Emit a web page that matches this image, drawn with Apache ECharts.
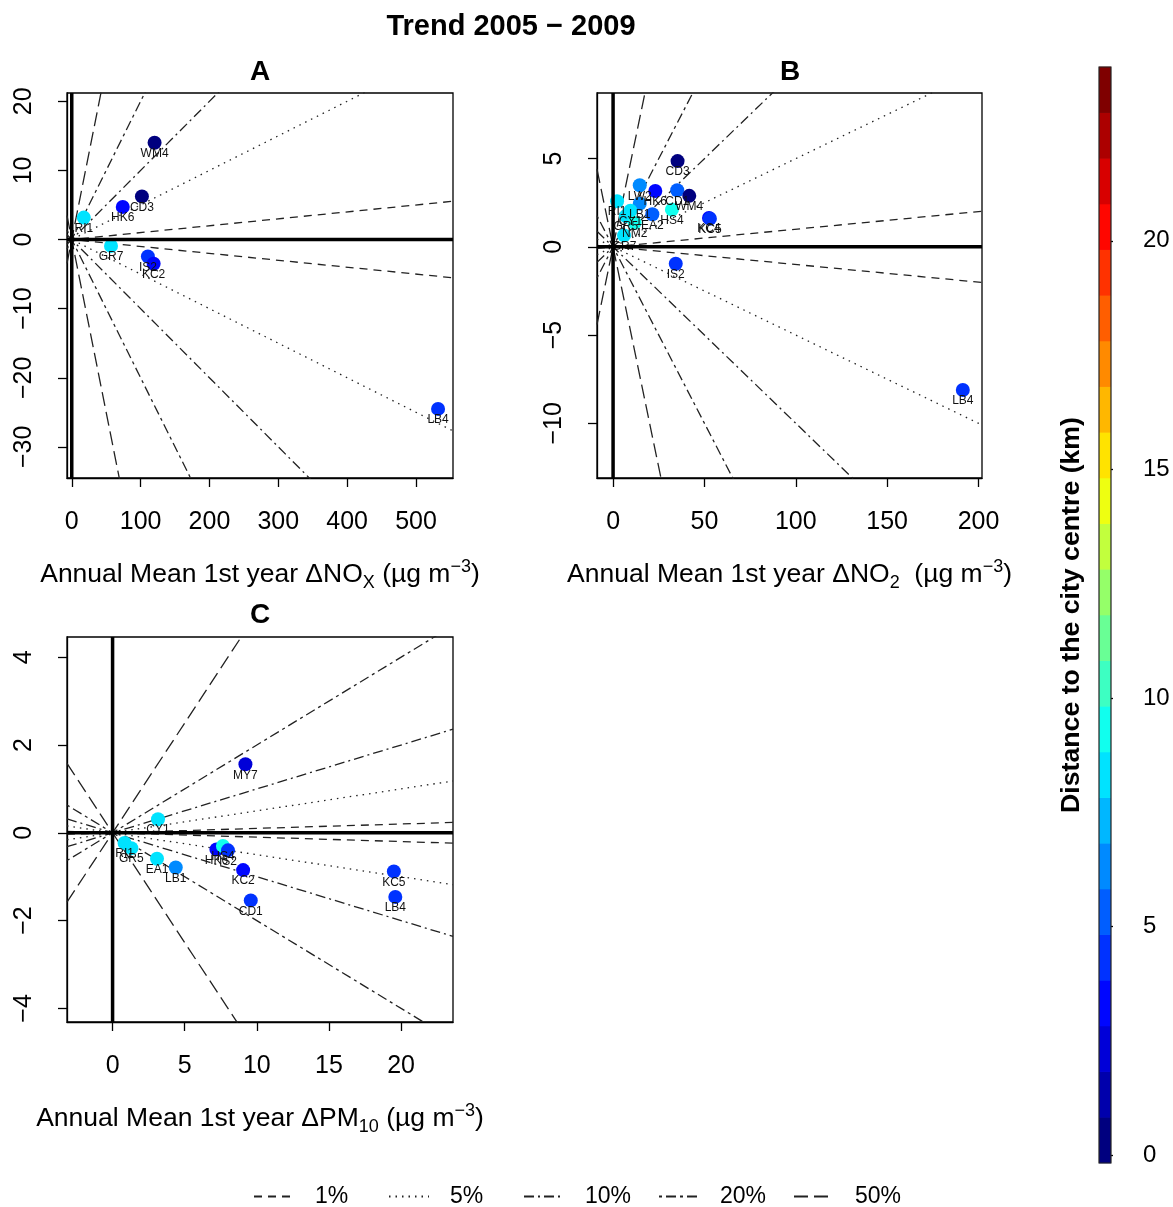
<!DOCTYPE html>
<html>
<head>
<meta charset="utf-8">
<script src="https://cdn.jsdelivr.net/npm/echarts@6/dist/echarts.min.js"></script>
<style>
  html, body { margin: 0; padding: 0; background: #fff; }
  #chart { width: 1173px; height: 1207px; }
</style>
</head>
<body>
<div id="chart"></div>
<script>
// Reference trend slopes (change per year as a fraction of the first-year mean)
const trendLevels = [0.01, 0.05, 0.10, 0.20, 0.50];
const trendNames = ['1%', '5%', '10%', '20%', '50%'];

// Panel A: NOx
const sitesA = ['WM4', 'CD3', 'HK6', 'RI1', 'GR7', 'IS2', 'KC2', 'LB4'];
const xA = [120.3, 101.9, 74.1, 17.5, 57.0, 110.6, 118.9, 532.0];
const yA = [14.0, 6.24, 4.72, 3.17, -0.92, -2.44, -3.5, -24.5];
const distA = [0.3, 0.5, 3.0, 8.5, 8.3, 4.0, 3.5, 4.2];
const limAx = [-6.9, 553.7];
const limAy = [-34.5, 21.2];
const ticksAx = [0, 100, 200, 300, 400, 500];
const ticksAy = [-30, -20, -10, 0, 10, 20];

// Panel B: NO2
const sitesB = ['CD3', 'LW2', 'HK6', 'CD1', 'WM4', 'RI1', 'LB1', 'HS4', 'EA2', 'CY1', 'GR5', 'NM2', 'GR7', 'KC4', 'KC5', 'IS2', 'LB4'];
const xB = [35.3, 14.6, 23.1, 35.1, 41.7, 2.2, 14.6, 32.2, 21.5, 9.5, 7.0, 11.8, 6.0, 52.5, 53.0, 34.3, 191.4];
const yB = [4.86, 3.49, 3.17, 3.21, 2.89, 2.59, 2.45, 2.11, 1.85, 2.05, 1.75, 1.37, 0.65, 1.64, 1.60, -0.96, -8.11];
const distB = [0.5, 6.6, 3.0, 5.0, 0.3, 8.5, 5.9, 9.2, 5.0, 8.8, 8.0, 9.0, 8.3, 3.3, 4.0, 4.0, 4.2];
const limBx = [-8.8, 201.9];
const limBy = [-13.1, 8.72];
const ticksBx = [0, 50, 100, 150, 200];
const ticksBy = [-10, -5, 0, 5];

// Panel C: PM10
const sitesC = ['MY7', 'CY1', 'RI1', 'GR5', 'EA1', 'LB1', 'HK6', 'HS4', 'IS2', 'KC2', 'CD1', 'KC5', 'LB4'];
const xC = [9.21, 3.15, 0.83, 1.3, 3.08, 4.38, 7.2, 7.65, 8.0, 9.05, 9.58, 19.5, 19.6];
const yC = [1.56, 0.31, -0.23, -0.35, -0.59, -0.79, -0.38, -0.30, -0.40, -0.85, -1.54, -0.88, -1.46];
const distC = [2.2, 8.8, 8.5, 8.0, 8.7, 5.9, 3.0, 9.2, 4.0, 3.5, 4.8, 4.3, 4.2];
const limCx = [-3.16, 23.6];
const limCy = [-4.31, 4.46];
const ticksCx = [0, 5, 10, 15, 20];
const ticksCy = [-4, -2, 0, 2, 4];

// Colour scale: distance to the city centre (km)
const distMin = -0.17, distMax = 23.8, distBands = 24;
const barTicks = [0, 5, 10, 15, 20];
const jetStops = ['#00007F', '#0000FF', '#007FFF', '#00FFFF', '#7FFF7F', '#FFFF00', '#FF7F00', '#FF0000', '#7F0000'];

function hexToRgb(h) {
  return [parseInt(h.slice(1, 3), 16), parseInt(h.slice(3, 5), 16), parseInt(h.slice(5, 7), 16)];
}
function jet(t) {
  const n = jetStops.length - 1;
  const pos = Math.max(0, Math.min(1, t)) * n;
  const i = Math.min(Math.floor(pos), n - 1);
  const f = pos - i;
  const a = hexToRgb(jetStops[i]), b = hexToRgb(jetStops[i + 1]);
  const c = a.map((v, k) => Math.round(v + (b[k] - v) * f));
  return 'rgb(' + c.join(',') + ')';
}
const bandColors = Array.from({ length: distBands }, (_, k) => jet(k / (distBands - 1)));
const bandWidth = (distMax - distMin) / distBands;
function distColor(d) {
  const k = Math.max(0, Math.min(distBands - 1, Math.floor((d - distMin) / bandWidth)));
  return bandColors[k];
}

const FONT = "'Liberation Sans', Arial, Helvetica, sans-serif";
const lineDashes = [[8, 6], [1.5, 5], [10, 4, 2, 4], [3, 4, 10, 4], [14, 6]];
const minus = v => String(v).replace('-', '\u2212');

const panels = [
  { sites: sitesA, xs: xA, ys: yA, dist: distA, limX: limAx, limY: limAy, tx: ticksAx, ty: ticksAy,
    grid: { left: 67, top: 93, width: 386, height: 385 },
    name: 'Annual Mean 1st year \u0394NO{sub|X} (\u00b5g m{sup|\u22123})' },
  { sites: sitesB, xs: xB, ys: yB, dist: distB, limX: limBx, limY: limBy, tx: ticksBx, ty: ticksBy,
    grid: { left: 597, top: 93, width: 385, height: 385 },
    name: 'Annual Mean 1st year \u0394NO{sub|2}  (\u00b5g m{sup|\u22123})' },
  { sites: sitesC, xs: xC, ys: yC, dist: distC, limX: limCx, limY: limCy, tx: ticksCx, ty: ticksCy,
    grid: { left: 67, top: 637, width: 386, height: 385 },
    name: 'Annual Mean 1st year \u0394PM{sub|10} (\u00b5g m{sup|\u22123})' }
];

const grids = [], xAxes = [], yAxes = [], series = [];

panels.forEach((p, g) => {
  grids.push(Object.assign({ show: true, borderColor: '#000', borderWidth: 1.3, backgroundColor: 'transparent' }, p.grid));
  xAxes.push({
    gridIndex: g, type: 'value', min: p.limX[0], max: p.limX[1],
    axisLine: { show: true, onZero: false, lineStyle: { color: '#000', width: 1.3 } },
    axisTick: { show: true, customValues: p.tx, length: 9, lineStyle: { color: '#000', width: 1.3 } },
    axisLabel: { customValues: p.tx, fontSize: 25, color: '#000', fontFamily: FONT, margin: 32, formatter: minus },
    splitLine: { show: false },
    name: p.name, nameLocation: 'middle', nameGap: 80,
    nameTextStyle: {
      fontSize: 26.5, color: '#000', fontFamily: FONT, lineHeight: 34,
      rich: {
        sub: { fontSize: 18, fontFamily: FONT, color: '#000', verticalAlign: 'bottom', lineHeight: 34 },
        sup: { fontSize: 18, fontFamily: FONT, color: '#000', verticalAlign: 'top', lineHeight: 34 }
      }
    }
  });
  yAxes.push({
    gridIndex: g, type: 'value', min: p.limY[0], max: p.limY[1],
    axisLine: { show: true, onZero: false, lineStyle: { color: '#000', width: 1.3 } },
    axisTick: { show: true, customValues: p.ty, length: 9, lineStyle: { color: '#000', width: 1.3 } },
    axisLabel: { customValues: p.ty, fontSize: 25, color: '#000', fontFamily: FONT, margin: 30, rotate: 90, formatter: minus },
    splitLine: { show: false }
  });

  // Reference trend lines through the origin, rising and falling
  trendLevels.forEach((lev, i) => {
    [1, -1].forEach(sgn => {
      series.push({
        type: 'line', name: trendNames[i], xAxisIndex: g, yAxisIndex: g,
        data: [[p.limX[0], sgn * lev * p.limX[0]], [p.limX[1], sgn * lev * p.limX[1]]],
        symbol: 'none', silent: true, z: 2, animation: false,
        itemStyle: { color: '#222' },
        lineStyle: { color: '#222', width: 1.3, type: lineDashes[i] }
      });
    });
  });

  // Monitoring sites coloured by distance to the centre
  series.push({
    type: 'scatter', name: 'sites' + g, xAxisIndex: g, yAxisIndex: g, z: 3, animation: false,
    symbolSize: 14,
    data: p.sites.map((s, k) => ({ name: s, value: [p.xs[k], p.ys[k]], itemStyle: { color: distColor(p.dist[k]), opacity: 1 } })),
    label: { show: true, formatter: '{b}', position: 'bottom', distance: -2, fontSize: 12, color: '#111', fontFamily: FONT }
  });

  // Heavy zero lines
  series.push({
    type: 'line', name: 'zeroX' + g, xAxisIndex: g, yAxisIndex: g, z: 4, silent: true, animation: false,
    data: [[p.limX[0], 0], [p.limX[1], 0]], symbol: 'none', lineStyle: { color: '#000', width: 3.5 }
  });
  series.push({
    type: 'line', name: 'zeroY' + g, xAxisIndex: g, yAxisIndex: g, z: 4, silent: true, animation: false,
    data: [[0, p.limY[0]], [0, p.limY[1]]], symbol: 'none', lineStyle: { color: '#000', width: 3.5 }
  });
});

// Colour bar grid
const cb = grids.length;
grids.push({ left: 1099, top: 67, width: 12, height: 1096, show: false });
xAxes.push({ gridIndex: cb, type: 'value', min: 0, max: 1, show: false });
yAxes.push({
  gridIndex: cb, type: 'value', min: distMin, max: distMax, position: 'right',
  axisLine: { show: false },
  axisTick: { show: true, customValues: barTicks, length: 14, lineStyle: { color: '#000', width: 1.3 } },
  axisLabel: { customValues: barTicks, fontSize: 24, color: '#000', fontFamily: FONT, margin: 32 },
  splitLine: { show: false }
});
const bandData = bandColors.map((c, k) => [k, distMin + k * bandWidth, distMin + (k + 1) * bandWidth]);
series.push({
  type: 'custom', name: 'colourbar', xAxisIndex: cb, yAxisIndex: cb, silent: true, animation: false,
  data: bandData,
  renderItem: (params, api) => {
    const k = api.value(0);
    const p0 = api.coord([0, api.value(1)]);
    const p1 = api.coord([1, api.value(2)]);
    return { type: 'rect', shape: { x: p0[0], y: p1[1] - 0.3, width: p1[0] - p0[0], height: p0[1] - p1[1] + 0.6 },
             style: { fill: bandColors[k] } };
  }
});
series.push({
  type: 'custom', name: 'colourbarFrame', xAxisIndex: cb, yAxisIndex: cb, silent: true, animation: false, z: 3,
  data: [[distMin, distMax]],
  renderItem: (params, api) => {
    const p0 = api.coord([0, api.value(0)]);
    const p1 = api.coord([1, api.value(1)]);
    return { type: 'rect', shape: { x: p0[0], y: p1[1], width: p1[0] - p0[0], height: p0[1] - p1[1] },
             style: { fill: 'none', stroke: '#222', lineWidth: 1.2 } };
  }
});

// One legend block per trend level, evenly spaced along the bottom
const legends = trendNames.map((nm, i) => ({
  data: [nm], selectedMode: false,
  left: 248 + 135 * i, top: 1180, itemWidth: 40, itemHeight: 16, itemGap: 0,
  itemStyle: { opacity: 0 },
  textStyle: { fontSize: 23, color: '#000', fontFamily: FONT, padding: [0, 0, 0, 16] }
}));

const option = {
  backgroundColor: '#fff',
  animation: false,
  grid: grids, xAxis: xAxes, yAxis: yAxes, series: series,
  legend: legends,
  graphic: [
    { type: 'text', x: 511, y: 27, style: { text: 'Trend 2005 \u2212 2009', font: "bold 29px " + FONT, fill: '#000', textAlign: 'center', textVerticalAlign: 'middle' } },
    { type: 'text', x: 260, y: 72, style: { text: 'A', font: "bold 28px " + FONT, fill: '#000', textAlign: 'center', textVerticalAlign: 'middle' } },
    { type: 'text', x: 790, y: 72, style: { text: 'B', font: "bold 28px " + FONT, fill: '#000', textAlign: 'center', textVerticalAlign: 'middle' } },
    { type: 'text', x: 260, y: 615, style: { text: 'C', font: "bold 28px " + FONT, fill: '#000', textAlign: 'center', textVerticalAlign: 'middle' } },
    { type: 'text', x: 1072, y: 615, rotation: Math.PI / 2,
      style: { text: 'Distance to the city centre (km)', font: "bold 26.7px " + FONT, fill: '#000', textAlign: 'center', textVerticalAlign: 'middle' } }
  ]
};

const chart = echarts.init(document.getElementById('chart'), null, { renderer: 'canvas' });
chart.setOption(option);
</script>
</body>
</html>
